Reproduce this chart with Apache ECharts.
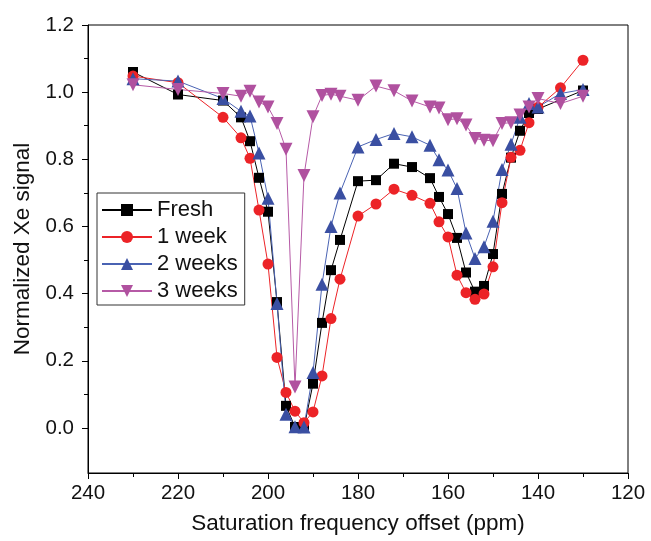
<!DOCTYPE html>
<html>
<head>
<meta charset="utf-8">
<script src="https://cdn.jsdelivr.net/npm/echarts@6/dist/echarts.min.js"></script>
<style>
  html, body { margin: 0; padding: 0; background: #fff; }
  #chart { width: 651px; height: 541px; }
</style>
</head>
<body>
<div id="chart"></div>
<script>
// saturation offsets (ppm)
const offsets = [230, 220, 210, 206, 204, 202, 200, 198, 196, 194, 192, 190, 188, 186, 184, 180, 176, 172,
  168, 164, 162, 160, 158, 156, 154, 152, 150, 148, 146, 144, 142, 140, 135, 130]

const fresh = [1.06, 0.993, 0.975, 0.925, 0.854, 0.745, 0.644, 0.375, 0.066, 0.003, 0.0, 0.132, 0.313, 0.47, 0.56, 0.735, 0.738, 0.787,
  0.777, 0.744, 0.688, 0.637, 0.566, 0.463, 0.406, 0.423, 0.518, 0.697, 0.805, 0.885, 0.938, 0.95, null, 1.005]
const week1 = [1.048, 1.028, 0.925, 0.864, 0.803, 0.649, 0.488, 0.21, 0.106, 0.05, 0.016, 0.048, 0.155, 0.326, 0.443, 0.631, 0.667, 0.711,
  0.693, 0.669, 0.614, 0.569, 0.455, 0.403, 0.383, 0.399, 0.48, 0.671, 0.806, 0.827, 0.909, 0.955, 1.013, 1.095]
const week2 = [1.04, 1.033, 0.981, 0.943, 0.929, 0.819, 0.684, 0.371, 0.041, 0.004, 0.003, 0.165, 0.428, 0.6, 0.7, 0.837, 0.859, 0.877,
  0.867, 0.842, 0.799, 0.768, 0.713, 0.581, 0.505, 0.54, 0.616, 0.77, 0.845, 0.925, 0.966, 0.956, 0.996, 1.008]
const week3 = [1.022, 1.008, 0.996, 0.988, 1.003, 0.971, 0.956, 0.907, 0.83, 0.122, 0.752, 0.927, 0.99, 0.994, 0.988, 0.976, 1.018, 1.004,
  0.974, 0.956, 0.953, 0.918, 0.921, 0.902, 0.862, 0.857, 0.855, 0.907, 0.909, 0.932, 0.956, 0.981, 0.966, 0.988]

const yMajor = [0, 0.2, 0.4, 0.6, 0.8, 1.0, 1.2]
const yMinor = [0.1, 0.3, 0.5, 0.7, 0.9, 1.1]

function pairs(vals) {
  return offsets.map((x, i) => [x, vals[i]])
}

const font = 'Liberation Sans, Arial, sans-serif'
let chart = echarts.init(document.getElementById('chart'))

function makeSeries(name, vals, color, lineColor, symbol, size, rotate) {
  return {
    name: name,
    type: 'line',
    data: pairs(vals),
    connectNulls: true,
    symbol: symbol,
    symbolSize: size,
    symbolRotate: rotate || 0,
    showAllSymbol: true,
    itemStyle: { color: color, borderWidth: 0 },
    lineStyle: { color: lineColor, width: 1 },
    emphasis: { disabled: true },
    animation: false,
  }
}

chart.setOption({
  animation: false,
  grid: {
    left: 88,
    right: 23,
    top: 25,
    bottom: 68,
    show: true,
    borderColor: '#000',
    borderWidth: 1,
  },
  legend: {
    orient: 'vertical',
    left: 97,
    top: 193,
    backgroundColor: '#fff',
    borderColor: '#333',
    borderWidth: 1,
    padding: [6, 7, 3, 4],
    itemWidth: 50,
    itemHeight: 15,
    itemGap: 5,
    textStyle: { fontFamily: font, fontSize: 22, color: '#111' },
    data: ['Fresh', '1 week', '2 weeks', '3 weeks'],
  },
  xAxis: {
    type: 'value',
    inverse: true,
    min: 120,
    max: 240,
    interval: 20,
    name: 'Saturation frequency offset (ppm)',
    nameLocation: 'middle',
    nameGap: 39,
    nameTextStyle: { fontFamily: font, fontSize: 22.5, color: '#111' },
    axisLine: { onZero: false, lineStyle: { color: '#000', width: 1 } },
    axisTick: { length: 6, lineStyle: { color: '#000' } },
    minorTick: { show: true, splitNumber: 2, length: 4, lineStyle: { color: '#000' } },
    axisLabel: { margin: 10, fontFamily: font, fontSize: 20.5, color: '#111' },
    splitLine: { show: false },
  },
  yAxis: [
    {
      type: 'value',
      min: -0.134,
      max: 1.2,
      name: 'Normalized Xe signal',
      nameLocation: 'middle',
      nameGap: 47,
      nameTextStyle: { fontFamily: font, fontSize: 22.5, color: '#111' },
      axisLine: { show: true, onZero: false, lineStyle: { color: '#000', width: 1 } },
      axisTick: { show: true, length: 6, customValues: yMajor, lineStyle: { color: '#000' } },
      axisLabel: {
        margin: 14,
        fontFamily: font,
        fontSize: 20.5,
        color: '#111',
        customValues: yMajor,
        formatter: (v) => v.toFixed(1),
      },
      splitLine: { show: false },
    },
    {
      type: 'value',
      min: -0.134,
      max: 1.2,
      position: 'left',
      axisLine: { show: false },
      axisTick: { show: true, length: 4, customValues: yMinor, lineStyle: { color: '#000' } },
      axisLabel: { show: false, customValues: yMinor },
      splitLine: { show: false },
    },
  ],
  series: [
    makeSeries('Fresh', fresh, '#000000', '#000000', 'rect', 10),
    makeSeries('1 week', week1, '#ec2327', '#ec2327', 'circle', 11),
    makeSeries('2 weeks', week2, '#3a4fa2', '#4a63b3', 'triangle', 13),
    makeSeries('3 weeks', week3, '#b0519f', '#b65aa6', 'triangle', 13, 180),
  ],
})
</script>
</body>
</html>
